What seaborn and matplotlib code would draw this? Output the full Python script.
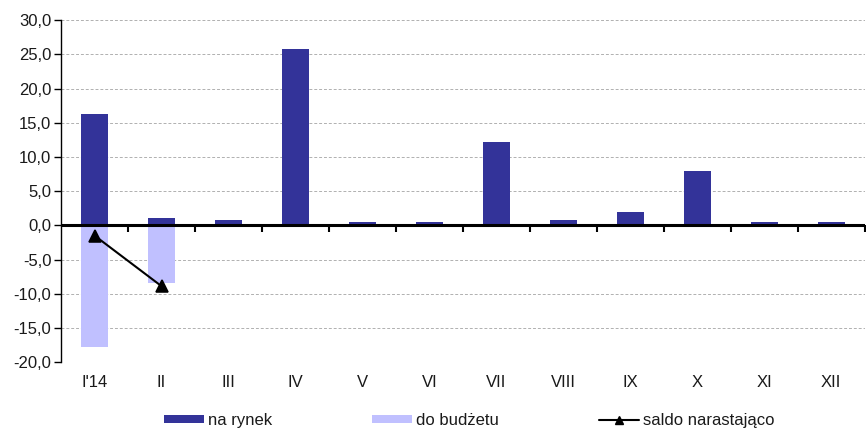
import matplotlib
matplotlib.use("Agg")
import matplotlib.pyplot as plt
import numpy as np
import pandas as pd
import seaborn as sns
from matplotlib.patches import Patch
from matplotlib.lines import Line2D
from matplotlib.ticker import FuncFormatter, FixedLocator

# Monthly flows (bn)
months = ["I'14", "II", "III", "IV", "V", "VI", "VII", "VIII", "IX", "X", "XI", "XII"]
na_rynek = [16.3, 1.0, 0.8, 25.8, 0.5, 0.5, 12.2, 0.8, 1.9, 8.0, 0.5, 0.5]
budzet_months = ["I'14", "II"]
do_budzetu = [-17.8, -8.5]
saldo_months = ["I'14", "II"]
saldo = [-1.5, -8.9]

sns.set_theme(style="white")
plt.rcParams["font.family"] = ["Liberation Sans", "DejaVu Sans"]
plt.rcParams["font.size"] = 12

dark = "#333399"
light = "#C0C0FF"
text_col = "#1a1a1a"

fig = plt.figure(figsize=(8.66, 4.30), dpi=100)
ax = fig.add_axes([0.0705, 0.158, 0.928, 0.795])

df = pd.DataFrame({"month": months, "na_rynek": na_rynek})
bdf = pd.DataFrame({"month": budzet_months, "do_budzetu": do_budzetu})
sns.barplot(data=bdf, x="month", y="do_budzetu", order=months, color=light,
            width=0.4, saturation=1, linewidth=0, ax=ax, zorder=3)
sns.barplot(data=df, x="month", y="na_rynek", order=months, color=dark,
            width=0.4, saturation=1, linewidth=0, ax=ax, zorder=3)

sdf = pd.DataFrame({"month": saldo_months, "saldo": saldo})
sns.pointplot(data=sdf, x="month", y="saldo", order=months, color="black",
              markers="^", markersize=9, linewidth=1.5, ax=ax, zorder=6)

ax.set_xlim(-0.5, len(months) - 0.5)
ax.set_ylim(-20, 30)
ax.set_yticks(np.arange(-20, 31, 5))
ax.yaxis.set_major_formatter(FuncFormatter(lambda v, p: f"{v:.1f}".replace(".", ",")))
ax.grid(axis="y", color="#b0b0b0", linestyle=(0, (3, 2)), linewidth=0.7, zorder=0)
ax.set_axisbelow(True)
ax.set_xlabel("")
ax.set_ylabel("")

for s in ["top", "right", "bottom"]:
    ax.spines[s].set_visible(False)
ax.spines["left"].set_color("black")
ax.spines["left"].set_linewidth(1.0)
ax.tick_params(axis="y", left=True, length=5, width=1, color="black",
               labelsize=12, labelcolor=text_col, pad=2)
ax.tick_params(axis="x", bottom=False, length=0, labelsize=12,
               labelcolor=text_col, pad=9)

# Zero axis line
ax.axhline(0, color="black", linewidth=2.2, zorder=5)

# Category separator ticks hanging from the zero line
zero_frac = (0 - (-20)) / 50
sec = ax.secondary_xaxis(zero_frac)
sec.spines["bottom"].set_visible(False)
sec.xaxis.set_major_locator(FixedLocator(np.arange(0.5, len(months), 1.0)))
sec.tick_params(axis="x", length=5, width=1.5, color="black", labelbottom=False,
                direction="out")

handles = [
    Patch(facecolor=dark, edgecolor="none"),
    Patch(facecolor=light, edgecolor="none"),
    Line2D([0], [0], color="black", marker="^", markersize=6, linewidth=1.5),
]
labels = ["na rynek", "do budżetu", "saldo narastająco"]
fig.legend(handles, labels, loc="center", bbox_to_anchor=(0.5416, 0.022), ncol=3,
           frameon=False, fontsize=12, handlelength=2.4, handleheight=0.42,
           handletextpad=0.25, columnspacing=6.0, labelcolor=text_col)

fig.savefig("out.png", dpi=100)
